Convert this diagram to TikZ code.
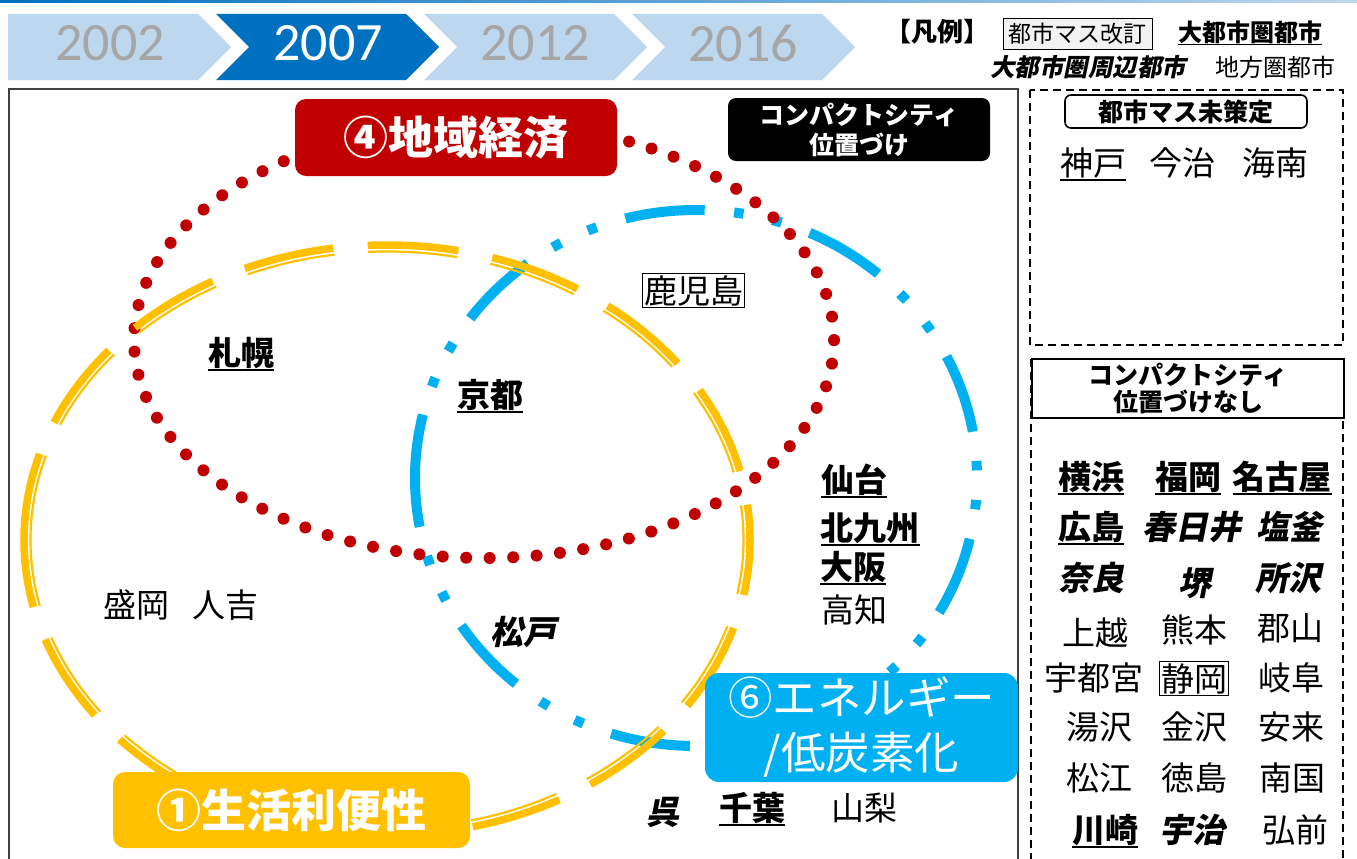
\documentclass[tikz,border=0pt]{standalone}
\usepackage{fontspec}
\setmainfont{Noto Sans CJK JP}
\newfontfamily\jpsl{Noto Sans CJK JP}[FakeSlant=0.2]
\newfontfamily\calfont{Carlito}
\definecolor{cyel}{HTML}{FFC000}
\definecolor{cred}{HTML}{C00000}
\definecolor{cblu}{HTML}{00B0F0}
\definecolor{chevd}{HTML}{0070C0}
\definecolor{chevl}{HTML}{BDD7EE}
\definecolor{chevt}{HTML}{A6A6A6}
\definecolor{frame}{HTML}{404040}
\newcommand\ulin[1]{\setbox0\hbox{#1}\rlap{\smash{\rule[-0.17em]{\wd0}{0.065em}}}\box0}
\tikzset{
  city/.style={inner sep=0pt, font=\fontsize{33}{36}\selectfont},
  cityb/.style={inner sep=0pt, font=\fontsize{33}{36}\selectfont\bfseries},
  citybi/.style={inner sep=0pt, font=\fontsize{33}{36}\selectfont\jpsl\bfseries},
  boxed/.style={draw, line width=1.3pt, inner sep=1.5pt, minimum height=34pt, font=\fontsize{33}{36}\selectfont},
  chevtxt/.style={inner sep=0pt, font=\calfont\fontsize{54}{54}\selectfont},
  leg/.style={inner sep=0pt, font=\fontsize{23}{26}\selectfont},
  tag/.style={rounded corners=11pt, inner sep=0pt, text=white, align=center},
}
\begin{document}
\begin{tikzpicture}[x=1pt,y=1pt]
\useasboundingbox (0,0) rectangle (1357,-859);
\fill[white] (0,0) rectangle (1357,-859);
% top line
\shade[left color=chevd, right color=chevl] (0,0) rectangle (1357,-2.5);
% chevrons
\fill[chevl] (8,-14) -- (198,-14) -- (231,-47) -- (198,-80) -- (8,-80) -- cycle;
\fill[chevd] (216,-14) -- (406,-14) -- (439,-47) -- (406,-80) -- (216,-80) -- (249,-47) -- cycle;
\fill[chevl] (424,-14) -- (614,-14) -- (647,-47) -- (614,-80) -- (424,-80) -- (457,-47) -- cycle;
\fill[chevl] (632,-14) -- (822,-14) -- (855,-47) -- (822,-80) -- (632,-80) -- (665,-47) -- cycle;
\node[chevtxt, text=chevt] (y2002) at (110,-43) {2002};
\node[chevtxt, text=white] (y2007) at (328,-43) {2007};
\node[chevtxt, text=chevt] (y2012) at (535,-43) {2012};
\node[chevtxt, text=chevt] (y2016) at (743,-43) {2016};
% legend
\node[leg, font=\fontsize{26}{28}\selectfont\bfseries] (hanrei) at (937,-32) {【凡例】};
\node[leg, draw, fill=black!5, line width=1pt, minimum width=149pt, minimum height=31pt] (legbox) at (1077.5,-34) {都市マス改訂};
\node[leg, font=\fontsize{24}{26}\selectfont\bfseries] (legdai) at (1250,-32) {\ulin{大都市圏都市}};
\node[leg, font=\fontsize{24.5}{26}\selectfont\jpsl\bfseries] (legshu) at (1088,-67) {大都市圏周辺都市};
\node[leg, font=\fontsize{24}{26}\selectfont] (legchi) at (1275,-67) {地方圏都市};
% main frame
\draw[frame, line width=2pt] (9,-89) rectangle (1018,-875);
% right panel
\draw[line width=1.6pt, dash pattern=on 8pt off 5pt] (1030,-90) rectangle (1343,-345);
\draw[line width=1.6pt, dash pattern=on 8pt off 5pt] (1031,-359) rectangle (1343,-875);
\node[draw, fill=white, line width=1.6pt, rounded corners=6pt, minimum width=242pt, minimum height=33pt, inner sep=0pt, font=\fontsize{25}{28}\selectfont\bfseries] (misaku) at (1186,-111.5) {都市マス未策定};
\node[draw, fill=white, line width=1.6pt, minimum width=312pt, minimum height=59pt, inner sep=0pt, align=center, font=\fontsize{25}{27}\selectfont\bfseries] (nashi) at (1188,-388.5) {コンパクトシティ\\位置づけなし};
% ellipses (each starts at its leftmost point and runs up on screen)
\draw[cblu, line width=10pt, dash pattern=on 80pt off 29.5pt on 9.5pt off 29.5pt on 9.5pt off 30pt, dash phase=16pt] (415,-478) arc[start angle=180, end angle=-180, x radius=281, y radius=268];
\draw[cred, line width=12pt, line cap=round, dash pattern=on 0pt off 23.488pt] (484,-340) ellipse [x radius=350, y radius=218];
\draw[cyel, line width=7.5pt, dash pattern=on 91pt off 34.5pt, dash phase=3pt] (24,-540) arc[start angle=180, end angle=-180, x radius=363, y radius=295];
\draw[cyel, line width=2.2pt, dash pattern=on 89.21pt off 33.82pt, dash phase=2.94pt] (30.5,-540) arc[start angle=180, end angle=-180, x radius=356.5, y radius=288.5];
% tags
\node[tag, fill=cred, minimum width=322pt, minimum height=77pt, font=\fontsize{45}{50}\selectfont\bfseries] (keizai) at (456,-137.5) {④地域経済};
\node[tag, fill=black, rounded corners=8pt, minimum width=262pt, minimum height=63pt, font=\fontsize{25}{30}\selectfont\bfseries] (ichi) at (859,-129.5) {コンパクトシティ\\位置づけ};
\node[tag, fill=cblu, rounded corners=14pt, minimum width=313pt, minimum height=109pt, font=\fontsize{44.5}{55}\selectfont] (energy) at (861.5,-727.5) {⑥エネルギー\\/低炭素化};
\node[tag, fill=cyel, rounded corners=12pt, minimum width=357pt, minimum height=76pt, font=\fontsize{45}{50}\selectfont\bfseries] (seikatsu) at (291.5,-810) {①生活利便性};
% cities in main area
\node[cityb] (sapporo) at (241,-353) {\ulin{札幌}};
\node[cityb] (kyoto) at (490,-395) {\ulin{京都}};
\node[boxed] (kagoshima) at (693.5,-290.5) {鹿児島};
\node[cityb] (sendai) at (854,-480) {\ulin{仙台}};
\node[cityb] (kitakyu) at (870,-528) {\ulin{北九州}};
\node[cityb] (osaka) at (853,-567) {\ulin{大阪}};
\node[city] (kochi) at (854,-610) {高知};
\node[city] (morioka) at (136,-605) {盛岡};
\node[city] (hitoyoshi) at (225,-605) {人吉};
\node[citybi] (matsudo) at (523,-632) {松戸};
\node[citybi] (kure) at (663,-812) {呉};
\node[cityb] (chiba) at (752,-808) {\ulin{千葉}};
\node[city] (yamanashi) at (864,-808) {山梨};
% right panel cities
\node[city] (kobe) at (1093,-163) {\ulin{神戸}};
\node[city] (imabari) at (1182,-163) {今治};
\node[city] (kainan) at (1275,-163) {海南};
\node[cityb] (yokohama) at (1091,-477) {\ulin{横浜}};
\node[cityb] (fukuoka) at (1188,-477) {\ulin{福岡}};
\node[cityb] (nagoya) at (1282,-477) {\ulin{名古屋}};
\node[cityb] (hiroshima) at (1091,-527) {\ulin{広島}};
\node[citybi] (kasugai) at (1192,-527) {春日井};
\node[citybi] (shiogama) at (1289,-527) {塩釜};
\node[citybi] (nara) at (1091,-578) {奈良};
\node[citybi] (sakai) at (1195,-583) {堺};
\node[citybi] (tokorozawa) at (1288,-578) {所沢};
\node[city] (joetsu) at (1095,-633) {上越};
\node[city] (kumamoto) at (1194,-630) {熊本};
\node[city] (koriyama) at (1290,-628) {郡山};
\node[city] (utsunomiya) at (1094,-678) {宇都宮};
\node[boxed, minimum height=33pt] (shizuoka) at (1194,-678.5) {静岡};
\node[city] (gifu) at (1291,-678) {岐阜};
\node[city] (yuzawa) at (1099,-727) {湯沢};
\node[city] (kanazawa) at (1194,-727) {金沢};
\node[city] (yasugi) at (1291,-727) {安来};
\node[city] (matsue) at (1099,-778) {松江};
\node[city] (tokushima) at (1194,-778) {徳島};
\node[city] (nankoku) at (1292,-778) {南国};
\node[cityb] (kawasaki) at (1105,-830) {\ulin{川崎}};
\node[citybi] (uji) at (1192,-830) {宇治};
\node[city] (hirosaki) at (1295,-830) {弘前};
\end{tikzpicture}
\end{document}
